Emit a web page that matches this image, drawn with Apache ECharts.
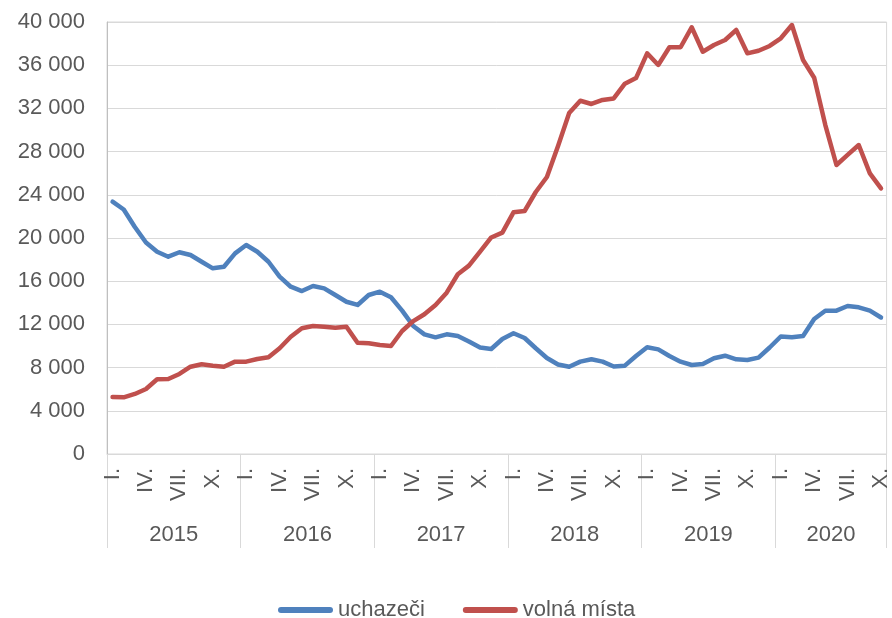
<!DOCTYPE html>
<html>
<head>
<meta charset="utf-8">
<script src="https://cdn.jsdelivr.net/npm/echarts@6/dist/echarts.min.js"></script>
<style>
  html, body { margin: 0; padding: 0; background: #fff; }
  #chart { width: 892px; height: 618px; }
</style>
</head>
<body>
<div id="chart"></div>
<script>
const years = ["2015", "2016", "2017", "2018", "2019", "2020"];
const months = ["I.", "II.", "III.", "IV.", "V.", "VI.", "VII.", "VIII.", "IX.", "X.", "XI.", "XII."];
const monthsIn2020 = 10;
const yTicks = [0, 4000, 8000, 12000, 16000, 20000, 24000, 28000, 32000, 36000, 40000];

// uchazeči, monthly 2015-I to 2020-X
const uchazeci = [
  23360, 22640, 21020, 19580, 18730, 18270, 18680, 18430, 17800, 17190, 17340, 18580,
  19350, 18730, 17800, 16420, 15490, 15090, 15560, 15340, 14720, 14100, 13800, 14720,
  15030, 14510, 13280, 11850, 11080, 10800, 11080, 10930, 10420, 9860, 9720, 10650,
  11180, 10740, 9790, 8890, 8290, 8080, 8550, 8770, 8550, 8100, 8180, 9070,
  9880, 9690, 9070, 8550, 8240, 8330, 8860, 9100, 8770, 8700, 8920, 9860,
  10880, 10810, 10930, 12500, 13270, 13270, 13700, 13580, 13270, 12640
];

// volná místa
const volnaMista = [
  5280, 5250, 5560, 6020, 6920, 6940, 7410, 8080, 8310, 8180, 8080, 8550,
  8550, 8800, 8950, 9790, 10860, 11640, 11850, 11790, 11690, 11790, 10300, 10250,
  10090, 10000, 11390, 12310, 12940, 13800, 14940, 16640, 17440, 18730, 20050, 20500,
  22380, 22500, 24260, 25650, 28520, 31570, 32710, 32410, 32780, 32920, 34290, 34810,
  37100, 36020, 37660, 37660, 39510, 37250, 37870, 38330, 39260, 37100, 37340, 37780,
  38490, 39720, 36480, 34840, 30460, 26760, 27690, 28610, 25990, 24600
];

const categories = [];
years.forEach((y, yi) => {
  const n = yi === years.length - 1 ? monthsIn2020 : 12;
  for (let m = 0; m < n; m++) categories.push(months[m] + " " + y);
});

// centre of each year on a 0..70 value scale, for the year row
const yearCenters = {};
years.forEach((y, yi) => {
  const n = yi === years.length - 1 ? monthsIn2020 : 12;
  yearCenters[yi * 12 + n / 2] = y;
});

const fontFamily = "'Liberation Sans', Arial, sans-serif";
const textColor = "#595959";
const gridColor = "#d9d9d9";

const chart = echarts.init(document.getElementById("chart"));

const fmt = (v) => String(v).replace(/\B(?=(\d{3})+(?!\d))/g, " ");

chart.setOption({
  animation: false,
  grid: {
    left: 107,
    right: 4,
    top: 22,
    bottom: 164,
    show: true,
    borderColor: gridColor,
    borderWidth: 1,
  },
  legend: {
    top: 594,
    left: 273,
    itemWidth: 55,
    itemHeight: 6,
    itemGap: 38,
    icon: "path://M3,0 H52 A3,3 0 0 1 52,6 H3 A3,3 0 0 1 3,0 Z",
    textStyle: { color: textColor, fontSize: 22, fontFamily },
    data: ["uchazeči", "volná místa"],
  },
  xAxis: [
    {
      type: "category",
      data: categories,
      boundaryGap: true,
      axisLine: { lineStyle: { color: gridColor, width: 1 } },
      axisTick: {
        show: true,
        interval: (i) => i % 12 === 0,
        length: 94,
        lineStyle: { color: gridColor, width: 1 },
      },
      axisLabel: {
        interval: (i) => i % 3 === 0,
        rotate: 90,
        margin: 14,
        color: textColor,
        fontSize: 22,
        fontFamily,
        formatter: (v) => v.split(" ")[0],
      },
    },
    {
      type: "value",
      position: "bottom",
      min: 0,
      max: categories.length,
      interval: 1,
      axisLine: { show: false },
      axisTick: { show: false },
      splitLine: { show: false },
      axisLabel: {
        margin: 70,
        color: textColor,
        fontSize: 22,
        fontFamily,
        showMinLabel: true,
        showMaxLabel: true,
        formatter: (v) => yearCenters[v] || "",
      },
    },
  ],
  yAxis: {
    type: "value",
    min: yTicks[0],
    max: yTicks[yTicks.length - 1],
    interval: yTicks[1] - yTicks[0],
    axisLine: { show: true, lineStyle: { color: "#bfbfbf", width: 1 } },
    axisTick: { show: false },
    splitLine: { lineStyle: { color: gridColor, width: 1 } },
    axisLabel: {
      margin: 22,
      color: textColor,
      fontSize: 22,
      fontFamily,
      formatter: fmt,
    },
  },
  series: [
    {
      name: "uchazeči",
      type: "line",
      data: uchazeci,
      symbol: "none",
      lineStyle: { color: "#4f81bd", width: 4.5, cap: "round", join: "round" },
      itemStyle: { color: "#4f81bd" },
    },
    {
      name: "volná místa",
      type: "line",
      data: volnaMista,
      symbol: "none",
      lineStyle: { color: "#c0504d", width: 4.5, cap: "round", join: "round" },
      itemStyle: { color: "#c0504d" },
    },
  ],
});
</script>
</body>
</html>
